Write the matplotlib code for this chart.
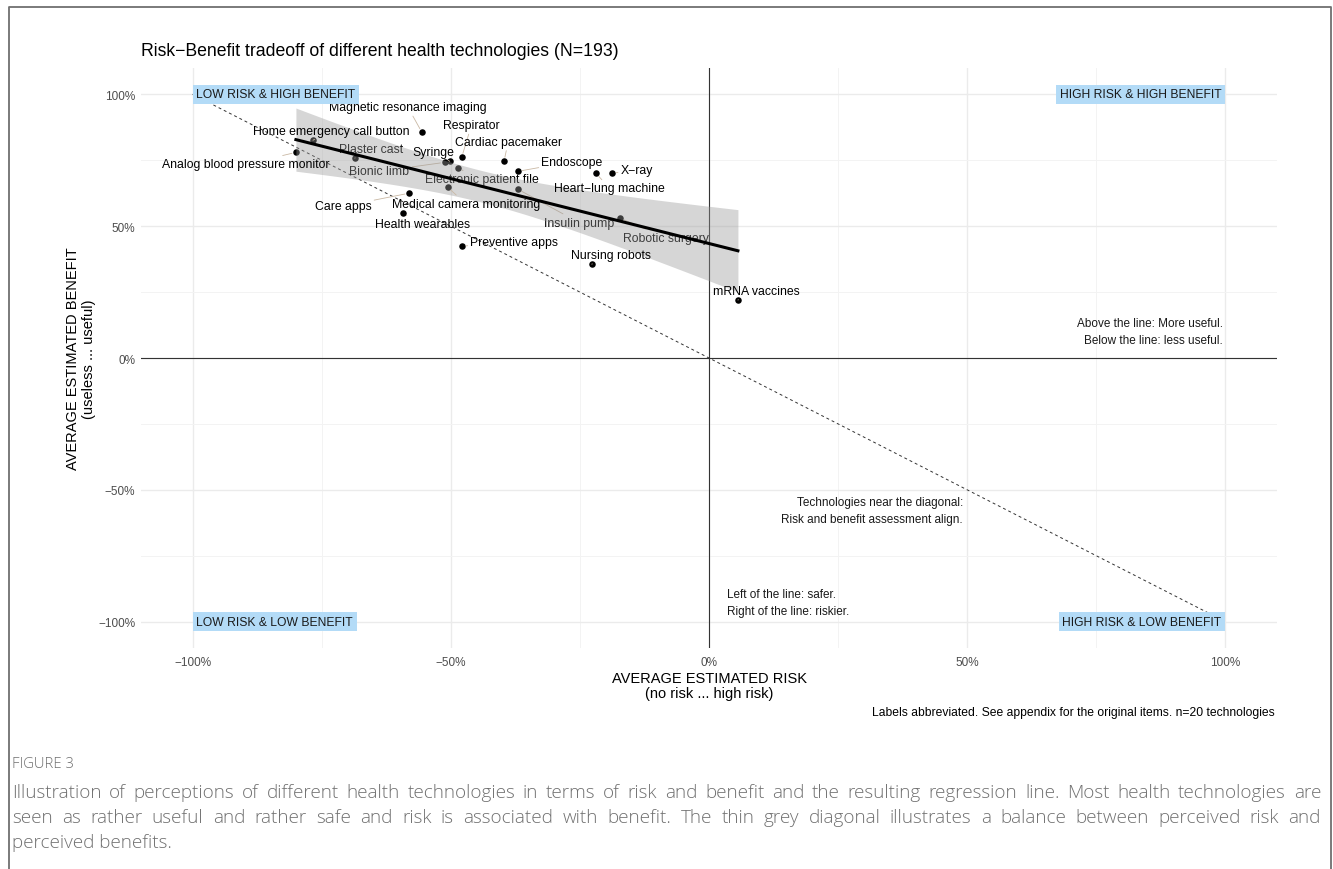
import numpy as np
import matplotlib.pyplot as plt
from matplotlib.lines import Line2D
from matplotlib.ticker import FuncFormatter, MultipleLocator

plt.rcParams['font.family'] = ['Liberation Sans', 'DejaVu Sans']

# Average perceived risk / benefit per technology (in %)
technologies = [
    "Magnetic resonance imaging", "Respirator", "Cardiac pacemaker", "Syringe",
    "Home emergency call button", "Plaster cast", "Analog blood pressure monitor",
    "Bionic limb", "Electronic patient file", "Endoscope", "X\u2212ray",
    "Heart\u2212lung machine", "Medical camera monitoring", "Insulin pump",
    "Care apps", "Health wearables", "Robotic surgery", "Preventive apps",
    "Nursing robots", "mRNA vaccines",
]
risk = [-55.6, -47.9, -39.7, -50.2, -76.7, -68.6, -80.0, -51.2, -48.6, -37.0,
        -18.8, -21.9, -50.6, -37.0, -58.1, -59.3, -17.2, -47.9, -22.7, 5.6]
benefit = [85.6, 76.1, 74.6, 74.6, 82.6, 75.8, 78.0, 74.2, 72.0, 70.8,
           70.1, 70.1, 64.8, 64.0, 62.5, 54.9, 53.0, 42.4, 35.6, 22.0]

quadrants = ["LOW RISK & HIGH BENEFIT", "HIGH RISK & HIGH BENEFIT",
             "LOW RISK & LOW BENEFIT", "HIGH RISK & LOW BENEFIT"]

# label offsets from each point, in points
label_offsets = {
    "Magnetic resonance imaging": (-10, 18), "Respirator": (7, 23),
    "Cardiac pacemaker": (3, 14), "Syringe": (-12, 7),
    "Home emergency call button": (13, 7), "Plaster cast": (11.5, 6.5),
    "Analog blood pressure monitor": (-36, -8.6), "Bionic limb": (-47, -6.5),
    "Electronic patient file": (17, -8), "Endoscope": (39, 7),
    "X\u2212ray": (18, 2), "Heart\u2212lung machine": (10, -11),
    "Medical camera monitoring": (13, -12), "Insulin pump": (44, -24),
    "Care apps": (-47.5, -9.4), "Health wearables": (14, -8),
    "Robotic surgery": (33, -14), "Preventive apps": (38, 3),
    "Nursing robots": (14, 6.5), "mRNA vaccines": (13, 6.5),
}
# labels drawn beneath the confidence band
under_band = {"Plaster cast", "Bionic limb", "Electronic patient file",
              "Insulin pump", "Robotic surgery"}

x = np.array(risk)
y = np.array(benefit)
n = len(x)

# linear fit with 95% confidence band
slope, intercept = np.polyfit(x, y, 1)
xs = np.linspace(x.min(), x.max(), 100)
fit = intercept + slope * xs
resid = y - (intercept + slope * x)
s = np.sqrt(np.sum(resid ** 2) / (n - 2))
se = s * np.sqrt(1 / n + (xs - x.mean()) ** 2 / np.sum((x - x.mean()) ** 2))
t_crit = 2.101  # t(0.975, df=18)

fig = plt.figure(figsize=(13.33, 8.7), dpi=100)
ax = fig.add_axes([141 / 1333, 221 / 870, 1136 / 1333, 580 / 870])

ax.set_xlim(-110, 110)
ax.set_ylim(-110, 110)
ax.xaxis.set_major_locator(MultipleLocator(50))
ax.yaxis.set_major_locator(MultipleLocator(50))
ax.xaxis.set_minor_locator(MultipleLocator(25))
ax.yaxis.set_minor_locator(MultipleLocator(25))
pct = FuncFormatter(lambda v, _: f"{v:.0f}%".replace("-", "\u2212"))
ax.xaxis.set_major_formatter(pct)
ax.yaxis.set_major_formatter(pct)
ax.tick_params(which='both', length=0, labelsize=8.5, labelcolor='#4D4D4D')
ax.tick_params(axis='x', pad=6)
ax.tick_params(axis='y', pad=4)
ax.grid(which='major', color='#EBEBEB', lw=1.0, zorder=0)
ax.grid(which='minor', color='#F3F3F3', lw=0.7, zorder=0)
ax.set_axisbelow(True)
for sp in ax.spines.values():
    sp.set_visible(False)

ax.axhline(0, color='#333333', lw=0.8, zorder=1.5)
ax.axvline(0, color='#333333', lw=0.8, zorder=1.5)
ax.plot([-100, 100], [100, -100], color='#333333', lw=0.7,
        dashes=(3, 3), zorder=1.6)

ax.scatter(x, y, s=22, color='black', zorder=3, linewidths=0)
ax.fill_between(xs, fit - t_crit * se, fit + t_crit * se,
                color='#999999', alpha=0.4, lw=0, zorder=4)
ax.plot(xs, fit, color='black', lw=2.2, zorder=5)

for name, xi, yi in zip(technologies, x, y):
    dx, dy = label_offsets[name]
    ax.annotate(name, xy=(xi, yi), xytext=(dx, dy), textcoords='offset points',
                ha='center', va='center', fontsize=8.8, color='black',
                zorder=3.5 if name in under_band else 6,
                arrowprops=dict(arrowstyle='-', color='#C9B8A4', lw=0.6,
                                shrinkA=0, shrinkB=3))

# quadrant labels: box edge sits on the +/-100% corner
box = dict(boxstyle='square,pad=0.3', fc='#B3DBF7', ec='none')
qpos = [(-100, 100, 'left'), (100, 100, 'right'),
        (-100, -100, 'left'), (100, -100, 'right')]
for label, (qx, qy, ha) in zip(quadrants, qpos):
    off = 2.7 if ha == 'left' else -2.7
    ax.annotate(label, xy=(qx, qy), xytext=(off, 0), textcoords='offset points',
                ha=ha, va='center', fontsize=8.7, color='#1A1A1A',
                bbox=box, zorder=7)

note = dict(fontsize=8.5, color='#1A1A1A', linespacing=1.5, zorder=7)
ax.text(99.5, 10.0, "Above the line: More useful.\nBelow the line: less useful.",
        ha='right', va='center', multialignment='right', **note)
ax.text(49.2, -57.8, "Technologies near the diagonal:\nRisk and benefit assessment align.",
        ha='right', va='center', multialignment='right', **note)
ax.text(3.5, -92.8, "Left of the line: safer.\nRight of the line: riskier.",
        ha='left', va='center', multialignment='left', **note)

ax.set_xlabel("AVERAGE ESTIMATED RISK\n(no risk ... high risk)",
              fontsize=10.5, labelpad=2, linespacing=1.1)
ax.set_ylabel("AVERAGE ESTIMATED BENEFIT\n(useless ... useful)",
              fontsize=10.5, labelpad=2, linespacing=1.1)

fig.text(141 / 1333, 1 - 52 / 870,
         "Risk\u2212Benefit tradeoff of different health technologies (N=193)",
         fontsize=12.7, ha='left', va='center', color='black')
fig.text(1275 / 1333, 1 - 713 / 870,
         "Labels abbreviated. See appendix for the original items. n=20 technologies",
         fontsize=8.7, ha='right', va='center', color='black')

# figure caption below the chart, justified
cap = dict(family=['Open Sans', 'DejaVu Sans'], color='#707070', fontweight='light')
fig.text(12 / 1333, 1 - 765 / 870, "FIGURE 3", fontsize=10.7, va='center', **cap)
caption_lines = [
    "Illustration of perceptions of different health technologies in terms of risk "
    "and benefit and the resulting regression line. Most health technologies are",
    "seen as rather useful and rather safe and risk is associated with benefit. The "
    "thin grey diagonal illustrates a balance between perceived risk and",
    "perceived benefits.",
]
cap_size = 13.6
renderer = fig.canvas.get_renderer()
x_left, x_right = 12, 1321
for i, line in enumerate(caption_lines):
    yf = 1 - (793 + 25 * i) / 870
    if i == len(caption_lines) - 1:
        fig.text(x_left / 1333, yf, line, fontsize=cap_size, va='center', **cap)
        continue
    words = line.split(" ")
    texts = [fig.text(0, yf, w, fontsize=cap_size, va='center', **cap) for w in words]
    widths = [t.get_window_extent(renderer).width for t in texts]
    gap = (x_right - x_left - sum(widths)) / (len(words) - 1)
    pos = x_left
    for t, w in zip(texts, widths):
        t.set_x(pos / 1333)
        pos += w + gap

# border around the figure panel
fig.add_artist(Line2D([9 / 1333, 9 / 1333, 1331 / 1333, 1331 / 1333],
                      [0, 1 - 8 / 870, 1 - 8 / 870, 0],
                      color='#707070', lw=1.3, transform=fig.transFigure))

fig.savefig("out.png", dpi=100, facecolor='white')
